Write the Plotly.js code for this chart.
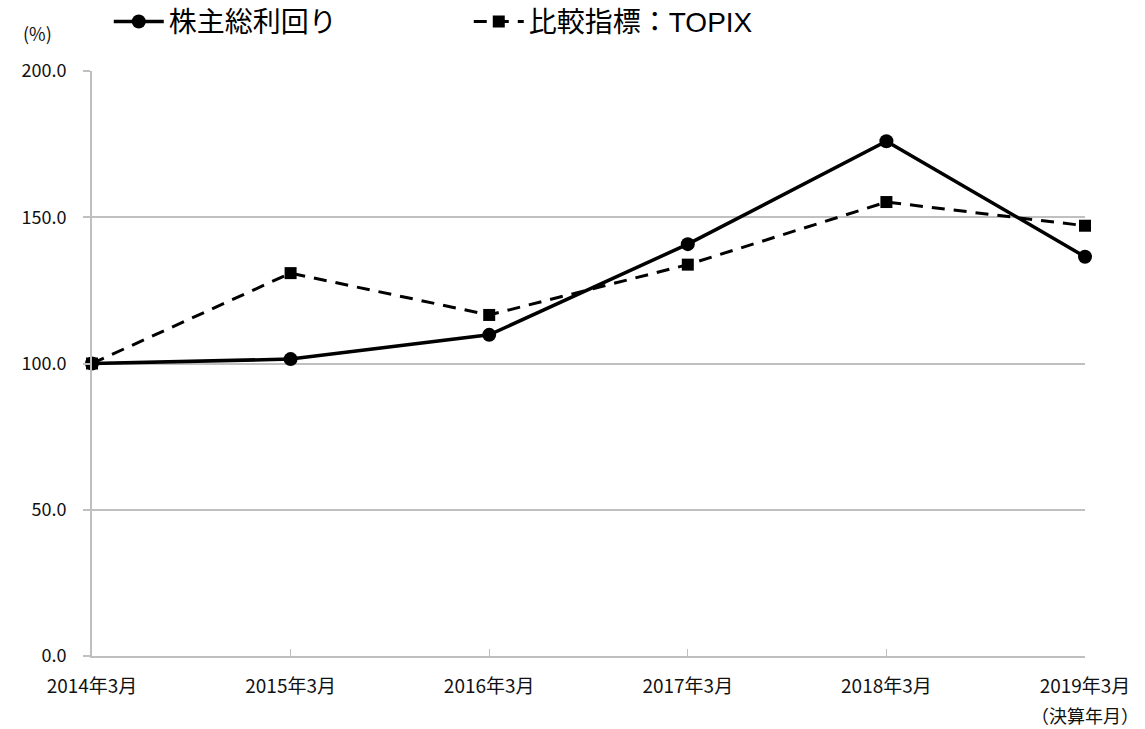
<!DOCTYPE html>
<html>
<head>
<meta charset="utf-8">
<script src="https://cdn.plot.ly/plotly-3.0.1.min.js"></script>
<style>html,body{margin:0;padding:0;background:#fff;}#chart{width:1145px;height:729px;}</style>
</head>
<body>
<div id="chart"></div>
<script>
const categories = ["2014年3月", "2015年3月", "2016年3月", "2017年3月", "2018年3月", "2019年3月"];
const tickLabels = ["2014年3月", "2015年3月", "2016年3月", "2017年3月", "2018年3月", "2019年3月"];
const xAxisNote = "（決算年月）";
const tsrName = "株主総利回り";
const tsrValues = [100.0, 101.5, 109.8, 140.8, 176.0, 136.5];
const topixName = "比較指標：TOPIX";
const topixValues = [100.0, 130.9, 116.6, 133.8, 155.2, 147.1];
const yTicks = [0, 50, 100, 150, 200];

const FONT = '"Noto Sans CJK JP", sans-serif';
const LFONT = '"Liberation Sans", "Noto Sans CJK JP", sans-serif';

const traces = [
  {
    x: categories, y: tsrValues, name: tsrName, type: 'scatter', mode: 'lines+markers',
    line: {color: '#000000', width: 3.5},
    marker: {symbol: 'circle', size: 14, color: '#000000'},
    cliponaxis: false
  },
  {
    x: categories, y: topixValues, name: topixName, type: 'scatter', mode: 'lines+markers',
    line: {color: '#000000', width: 3, dash: '13px,9px'},
    marker: {symbol: 'square', size: 12, color: '#000000'},
    cliponaxis: false
  }
];

const layout = {
  width: 1145, height: 729,
  margin: {l: 92, r: 60, t: 71, b: 73},
  paper_bgcolor: '#ffffff', plot_bgcolor: '#ffffff',
  font: {family: FONT, color: '#111111', size: 16},
  showlegend: true,
  legend: {
    orientation: 'h', xref: 'container', yref: 'container',
    x: 0.095, y: 0.97, xanchor: 'left', yanchor: 'middle',
    font: {family: LFONT, size: 28, color: '#000000'},
    entrywidth: 295, entrywidthmode: 'pixels',
    itemwidth: 50, bgcolor: 'rgba(0,0,0,0)'
  },
  xaxis: {
    type: 'category', categoryorder: 'array', categoryarray: categories,
    range: [0, 5],
    tickmode: 'array', tickvals: categories, ticktext: tickLabels,
    showgrid: false, zeroline: false,
    showline: true, linecolor: '#bfbfbf', linewidth: 2,
    ticks: 'inside', ticklen: 7, tickcolor: '#bfbfbf', tickwidth: 1,
    ticklabelstandoff: 12,
    tickfont: {family: FONT, size: 19, color: '#111111'},
    fixedrange: true
  },
  yaxis: {
    range: [0, 200], tickmode: 'array', tickvals: yTicks, tickformat: '.1f',
    showgrid: true, gridcolor: '#c0c0c0', gridwidth: 2,
    zeroline: false, showline: true, linecolor: '#bfbfbf', linewidth: 2,
    ticks: 'outside', ticklen: 7, tickcolor: '#c0c0c0', tickwidth: 2,
    ticklabelstandoff: 13,
    tickfont: {family: FONT, size: 18, color: '#111111'},
    fixedrange: true
  },
  annotations: [
    {text: '(%)', xref: 'paper', yref: 'paper', x: -0.038, y: 1.04, xanchor: 'right', yanchor: 'bottom',
     showarrow: false, font: {family: FONT, size: 18, color: '#111111'}},
    {text: xAxisNote, xref: 'x', yref: 'paper', x: categories[categories.length - 1], y: -0.1,
     xanchor: 'center', yanchor: 'middle', showarrow: false,
     font: {family: FONT, size: 18, color: '#111111'}}
  ]
};

Plotly.newPlot('chart', traces, layout, {displayModeBar: false, staticPlot: true});
</script>
</body>
</html>
